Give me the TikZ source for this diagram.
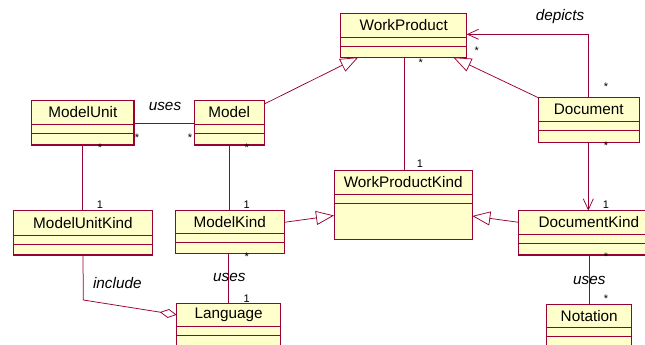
\documentclass[tikz,border=0pt]{standalone}
\usepackage{fontspec}
\setmainfont{Liberation Sans}
\usetikzlibrary{arrows.meta}
\definecolor{umlline}{HTML}{990033}
\definecolor{umlfill}{HTML}{FFFFCC}
\tikzset{
  clsbox/.style={draw=umlline, fill=umlfill, line width=0.9pt, inner sep=0pt, outer sep=0pt},
  clsdiv/.style={draw=umlline, line width=0.8pt},
  clsedge/.style={draw=umlline, line width=1.3pt},
  clstext/.style={font=\fontsize{15.3}{18}\selectfont, text=black, inner sep=0pt},
  assoc/.style={draw=umlline, line width=0.75pt},
  gen/.style={assoc, -{Triangle[open, length=18pt, width=14pt]}},
  navi/.style={assoc, -{Straight Barb[length=11pt, width=10pt]}},
  aggr/.style={assoc, -{Diamond[open, length=17pt, width=9pt]}},
  rolelab/.style={font=\fontsize{15.3}{18}\selectfont\itshape, text=black, inner sep=0pt},
  mult/.style={font=\fontsize{11}{13}\selectfont, text=black, inner sep=0pt}
}
\newcommand\umlcls[8]{%
  \node[clsbox, anchor=north west, minimum width={#4-#2}, minimum height={#5-#3}] (#1) at (#2,#3) {};
  \draw[clsdiv] (#1.west |- 0,#6) -- (#1.east |- 0,#6) (#1.west |- 0,#7) -- (#1.east |- 0,#7);
  \draw[clsedge] (#1.north east) -- (#1.south east) -- (#1.south west);
  \node[clstext] (#1-name) at ({(#2+#4)/2},{(#3+#6)/2}) {#8};
}
\begin{document}
\begin{tikzpicture}[x=1pt, y=-1pt]
\useasboundingbox (0,0) rectangle (645,345);
\clip (0,0) rectangle (645,345);
\fill[white] (0,0) rectangle (645,345);

% classes
\umlcls{wp}{340.7}{13.3}{466.7}{57.3}{37.3}{46.7}{WorkProduct}
\umlcls{mu}{31.7}{100.7}{134}{145}{124.3}{133.3}{ModelUnit}
\umlcls{m}{194}{100.7}{264.3}{145}{124.3}{133.3}{Model}
\umlcls{doc}{538.3}{97.7}{639.3}{142.3}{121.7}{130.7}{Document}
\umlcls{wpk}{334}{170.7}{472.3}{239.3}{194.3}{203.3}{WorkProductKind}
\umlcls{muk}{13.3}{210.7}{152.7}{255}{235}{244}{ModelUnitKind}
\umlcls{mk}{175}{210}{284.3}{253.3}{233.3}{242.3}{ModelKind}
\umlcls{dk}{518.7}{210.7}{659}{255}{234.3}{243.3}{DocumentKind}
\umlcls{lang}{176.7}{303.3}{280.7}{356}{326.7}{335.7}{Language}
\umlcls{nt}{546.7}{304.3}{631.7}{356}{327.7}{336.7}{Notation}

% ModelUnit -- Model (uses)
\draw[assoc] (mu.east |- 0,123.3) -- (m.west |- 0,123.3);
\node[rolelab] (l-uses1) at (165,106) {uses};
\node[mult] (mu-m1) at (137,138) {*};
\node[mult] (mu-m2) at (190,138) {*};

% ModelUnit -- ModelUnitKind
\draw[assoc] (mu.south -| 82.7,0) -- (muk.north -| 82.7,0);
\node[mult] (mu-s) at (100,148) {*};
\node[mult] (muk-1) at (100,205) {1};

% Model -- ModelKind
\draw[assoc] (m.south) -- (mk.north -| m.south);
\node[mult] (m-s) at (246.7,148) {*};
\node[mult] (mk-1) at (246.7,204.3) {1};

% ModelKind -- Language (uses)
\draw[assoc] (mk.south -| lang.north) -- (lang.north);
\node[mult] (mk-s) at (246.7,257) {*};
\node[rolelab] (l-uses2) at (229.3,277) {uses};
\node[mult] (lang-1) at (246.7,298.3) {1};

% ModelUnitKind -- Language (include, aggregation)
\coordinate (incbend) at (83.3,300);
\draw[aggr] (muk.south) -- (incbend) -- (lang.west |- 0,314.8);
\node[rolelab] (l-include) at (117.3,283) {include};

% generalizations
\draw[gen] (m.east |- 0,104) -- (wp.south -| 358.3,0);
\draw[gen] (doc.north west) -- (wp.south -| 453.3,0);
\draw[gen] (mk.east |- 0,222.3) -- (wpk.west |- 0,215.5);
\draw[gen] (dk.west |- 0,222.3) -- (wpk.east |- 0,216);

% WorkProduct -- WorkProductKind
\draw[assoc] (wp.south -| 404,0) -- (wpk.north -| 404,0);
\node[mult] (wp-s) at (420.7,63) {*};
\node[mult] (wpk-1) at (420,163.3) {1};

% depicts
\coordinate (depbend) at (588.3,34.3);
\draw[navi] (doc.north -| 588.3,0) -- (depbend) -- (wp.east |- depbend);
\node[rolelab] (l-depicts) at (560,17) {depicts};
\node[mult] (wp-e) at (476.7,50.5) {*};
\node[mult] (doc-n) at (606,86.5) {*};

% Document -- DocumentKind
\draw[navi] (doc.south -| 588.3,0) -- (dk.north -| 588.3,0);
\node[mult] (doc-s) at (606,145.5) {*};
\node[mult] (dk-1) at (606,204.3) {1};

% DocumentKind -- Notation (uses)
\draw[assoc] (dk.south -| 589.3,0) -- (nt.north -| 589.3,0);
\node[mult] (dk-s) at (606,257) {*};
\node[rolelab] (l-uses3) at (589.3,280) {uses};
\node[mult] (nt-s) at (606,299) {*};
\end{tikzpicture}
\end{document}
